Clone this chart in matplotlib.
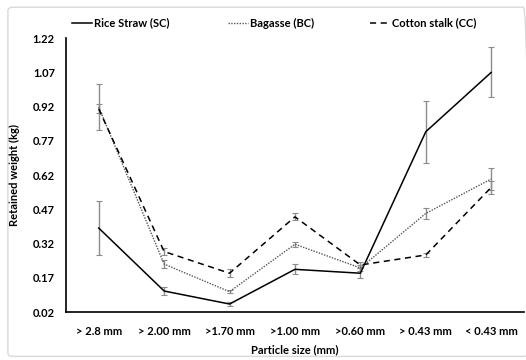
import matplotlib.pyplot as plt
from matplotlib.patches import FancyBboxPatch

plt.rcParams['font.family'] = ['Lato', 'DejaVu Sans']
plt.rcParams['font.weight'] = 'bold'

# particle size classes
sizes = ['> 2.8 mm', '> 2.00 mm', '>1.70 mm', '>1.00 mm', '>0.60 mm', '> 0.43 mm', '< 0.43 mm']

# retained weight (kg) and error bars
rice = [0.388, 0.112, 0.055, 0.207, 0.19, 0.81, 1.07]
rice_err = [0.12, 0.018, 0.01, 0.022, 0.022, 0.136, 0.11]
bagasse = [0.918, 0.23, 0.109, 0.317, 0.213, 0.452, 0.603]
bagasse_err = [0.1, 0.018, 0.006, 0.01, 0.012, 0.023, 0.05]
cotton = [0.91, 0.285, 0.19, 0.437, 0.226, 0.27, 0.566]
cotton_err = [0.02, 0.015, 0.018, 0.015, 0.015, 0.008, 0.03]

yticks = [0.02, 0.17, 0.32, 0.47, 0.62, 0.77, 0.92, 1.07, 1.22]

fig = plt.figure(figsize=(5.26, 3.6), dpi=100)
ax = fig.add_axes([0.1255, 0.1333, 0.8705, 0.7607])

x = list(range(len(sizes)))
eb = dict(ecolor='#8c8c8c', elinewidth=1, capsize=2, capthick=0.8)
ax.errorbar(x, rice, yerr=rice_err, color='black', lw=1.1, ls='-', label='Rice Straw (SC)', **eb)
ax.errorbar(x, bagasse, yerr=bagasse_err, color='#555555', lw=1.0, ls=(0, (1, 1)), label='Bagasse (BC)', **eb)
ax.errorbar(x, cotton, yerr=cotton_err, color='black', lw=1.1, ls=(0, (4, 3)), label='Cotton stalk (CC)', **eb)

ax.set_xlim(-0.5, 6.5)
ax.set_ylim(0.02, 1.22)
ax.set_xticks(x)
ax.set_xticklabels(sizes)
ax.set_yticks(yticks)
ax.set_yticklabels(['%.2f' % v for v in yticks])
ax.tick_params(length=0, labelsize=8, pad=8)
ax.tick_params(axis='x', pad=10)
ax.spines['top'].set_visible(False)
ax.spines['right'].set_visible(False)
ax.spines['left'].set_linewidth(1.2)
ax.spines['bottom'].set_linewidth(1.2)

ax.set_xlabel('Particle size (mm)', fontsize=8, fontweight='bold', labelpad=5)
ax.set_ylabel('Retained weight (kg)', fontsize=8, fontweight='bold', labelpad=9)

# one legend per entry, placed like the original
handles, labels = ax.get_legend_handles_labels()
for h, lab, xpos in zip(handles, labels, [72 / 526, 228 / 526, 370 / 526]):
    fig.legend([h[0]], [lab], loc='center left', bbox_to_anchor=(xpos, 1 - 23 / 360),
               frameon=False, fontsize=8, handlelength=1.8, handletextpad=0.15,
               borderpad=0, borderaxespad=0)

fig.patches.append(FancyBboxPatch((0.015, 0.01), 0.99, 0.97, boxstyle='round,pad=0,rounding_size=0.01',
                                  transform=fig.transFigure, fill=False, ec='#d9d9d9', lw=1, zorder=0))

fig.savefig('out.png', dpi=100)
